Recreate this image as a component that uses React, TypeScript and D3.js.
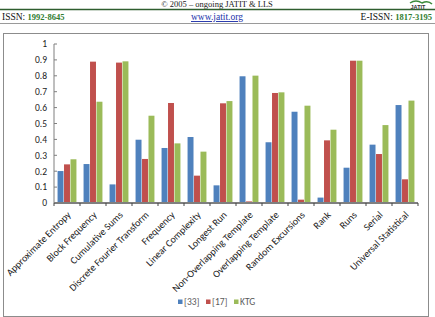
import React from "react";
import * as d3 from "d3";

const categories = [
  "Approximate Entropy",
  "Block Frequency",
  "Cumulative Sums",
  "Discrete Fourier Transform",
  "Frequency",
  "Linear Complexity",
  "Longest Run",
  "Non-Overlapping Template",
  "Overlapping Template",
  "Random Excursions",
  "Rank",
  "Runs",
  "Serial",
  "Universal Statistical",
];

const seriesNames = ["[33]", "[17]", "KTG"];

const ref33 = [0.201, 0.245, 0.117, 0.398, 0.346, 0.415, 0.111, 0.797, 0.382, 0.574, 0.034, 0.222, 0.367, 0.616];
const ref17 = [0.243, 0.889, 0.883, 0.277, 0.629, 0.172, 0.627, 0.01, 0.692, 0.021, 0.394, 0.895, 0.308, 0.149];
const ktg = [0.275, 0.637, 0.891, 0.549, 0.375, 0.323, 0.641, 0.801, 0.696, 0.612, 0.461, 0.895, 0.49, 0.644];

const yTicks = [0, 0.1, 0.2, 0.3, 0.4, 0.5, 0.6, 0.7, 0.8, 0.9, 1];

const colors = ["#4F81BD", "#C0504D", "#9BBB59"];

export default function App() {
  const W = 435;
  const H = 317;
  const x0 = 54;
  const x1 = 418;
  const yTop = 44;
  const yBase = 203;

  const series = [ref33, ref17, ktg];

  const x = d3.scaleBand<string>().domain(categories).range([x0, x1]).paddingInner(0).paddingOuter(0);
  const inner = d3
    .scaleBand<string>()
    .domain(seriesNames)
    .range([0, x.bandwidth()])
    .paddingOuter(0.55)
    .paddingInner(0.08);
  const y = d3.scaleLinear().domain([0, 1]).range([yBase, yTop]);

  const axisFont = "Carlito, 'Liberation Sans', 'DejaVu Sans', sans-serif";

  return (
    <svg
      width={W}
      height={H}
      style={{ position: "absolute", left: 0, top: 0, background: "#fff" }}
      xmlns="http://www.w3.org/2000/svg"
    >
      {/* journal header */}
      <text x={217} y={7} textAnchor="middle" fontFamily="'Liberation Serif', serif" fontSize={8.5} fill="#222">
        © 2005 – ongoing  JATIT &amp; LLS
      </text>
      <g>
        <path d="M410,3 q6,-4 12,0 q6,-3 10,1" stroke="#3a8a3a" strokeWidth={1.5} fill="none" />
        <text x={418} y={9} textAnchor="middle" fontFamily="'Liberation Sans', sans-serif" fontWeight="bold" fontSize={5.5} fill="#333">
          JATIT
        </text>
      </g>
      <line x1={0} x2={W} y1={9.5} y2={9.5} stroke="#2e5e2e" strokeWidth={1.6} />
      <text x={2} y={20} fontFamily="'Liberation Serif', serif" fontSize={9.5} fill="#111">
        ISSN: <tspan fill="#2f7d2f" fontWeight="bold" fontSize={8.5}>1992-8645</tspan>
      </text>
      <text
        x={217}
        y={20}
        textAnchor="middle"
        fontFamily="'Liberation Serif', serif"
        fontSize={9.5}
        fill="#2233aa"
        textDecoration="underline"
      >
        www.jatit.org
      </text>
      <text x={432} y={20} textAnchor="end" fontFamily="'Liberation Serif', serif" fontSize={9.5} fill="#111">
        E-ISSN: <tspan fill="#2f7d2f" fontWeight="bold" fontSize={8.5}>1817-3195</tspan>
      </text>
      <line x1={0} x2={W} y1={23.5} y2={23.5} stroke="#9a9a9a" strokeWidth={1} />

      {/* chart frame */}
      <rect x={3.5} y={33.5} width={425} height={283} fill="#fff" stroke="#8c8c8c" strokeWidth={1} />

      {/* y axis */}
      <line x1={x0} x2={x0} y1={yTop} y2={yBase} stroke="#7f7f7f" strokeWidth={1} />
      {yTicks.map((t) => (
        <g key={t}>
          <line x1={x0} x2={x0 + 3} y1={y(t)} y2={y(t)} stroke="#7f7f7f" />
          <text
            x={47}
            y={y(t)}
            dy="0.35em"
            textAnchor="end"
            fontFamily={axisFont}
            fontSize={9.5}
            fill="#222"
          >
            {d3.format("~g")(t)}
          </text>
        </g>
      ))}

      {/* bars */}
      {categories.map((c, i) => (
        <g key={c} transform={`translate(${x(c)},0)`}>
          {series.map((vals, s) => (
            <rect
              key={s}
              x={inner(seriesNames[s])}
              y={y(vals[i])}
              width={inner.bandwidth()}
              height={yBase - y(vals[i])}
              fill={colors[s]}
            />
          ))}
        </g>
      ))}

      {/* x axis */}
      <line x1={x0} x2={x1} y1={yBase} y2={yBase} stroke="#7f7f7f" strokeWidth={1.8} />
      {categories.map((c) => (
        <line key={c} x1={x(c)} x2={x(c)} y1={yBase} y2={yBase + 3} stroke="#444" />
      ))}
      <line x1={x1} x2={x1} y1={yBase} y2={yBase + 3} stroke="#444" />
      {categories.map((c) => {
        const cx = (x(c) as number) + x.bandwidth() / 2 + 2;
        const cy = yBase + 10;
        return (
          <text
            key={c}
            transform={`translate(${cx},${cy}) rotate(-45)`}
            textAnchor="end"
            dy="0.35em"
            fontFamily={axisFont}
            fontSize={10}
            fill="#222"
          >
            {c}
          </text>
        );
      })}

      {/* legend */}
      {seriesNames.map((n, s) => {
        const lx = 178 + s * 28;
        return (
          <g key={n}>
            <rect x={lx} y={299.5} width={4.5} height={4.5} fill={colors[s]} />
            <text x={lx + 6} y={302} dy="0.35em" fontFamily={axisFont} fontSize={9.5} fill="#595959">
              {n}
            </text>
          </g>
        );
      })}
    </svg>
  );
}
